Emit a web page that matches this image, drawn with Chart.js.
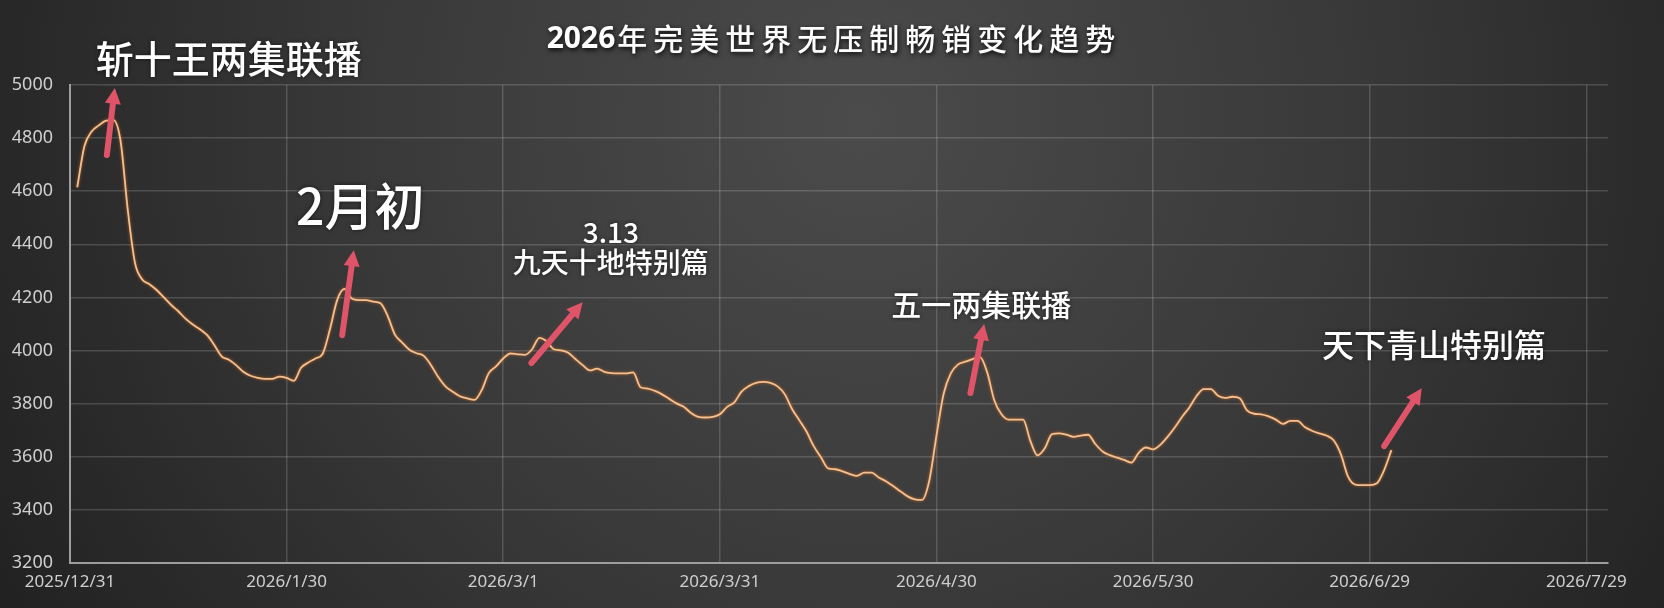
<!DOCTYPE html>
<html>
<head>
<meta charset="utf-8">
<script src="https://cdn.jsdelivr.net/npm/chart.js@4.4.1/dist/chart.umd.min.js"></script>
<style>
  html, body { margin: 0; padding: 0; background: #2b2b2b; }
  #wrap { width: 1664px; height: 608px; }
</style>
</head>
<body>
<div id="wrap"><canvas id="graph" width="1664" height="608"></canvas></div>
<script>
const titleYear = '2026';
const titleText = '年完美世界无压制畅销变化趋势';

// x axis counts days from this date
const axisStart = '2025-12-31';
const axisEndDay = 213;
// one reading per day, starting here
const firstDay = '2026-01-01';
const sales = [
  4615, 4770, 4825, 4848, 4866, 4868, 4790, 4530, 4330, 4268,
  4250, 4228, 4200, 4172, 4148, 4120, 4098, 4080, 4058, 4020,
  3978, 3965, 3945, 3920, 3905, 3897, 3893, 3893, 3902, 3897,
  3886, 3935, 3955, 3970, 3988, 4080, 4190, 4232, 4196, 4190,
  4190, 4184, 4178, 4130, 4060, 4030, 4003, 3990, 3980, 3945,
  3900, 3865, 3845, 3828, 3820, 3814, 3850, 3915, 3940, 3970,
  3989, 3986, 3984, 4005, 4048, 4035, 4005, 4001, 3992, 3968,
  3945, 3925, 3932, 3920, 3915, 3914, 3914, 3918, 3862, 3857,
  3848, 3835, 3818, 3801, 3788, 3765, 3750, 3748, 3750, 3760,
  3788, 3805, 3845, 3866, 3878, 3882, 3878, 3865, 3835, 3780,
  3738, 3695, 3640, 3598, 3556, 3553, 3545, 3535, 3528, 3540,
  3540, 3522, 3508, 3490, 3470, 3451, 3440, 3438, 3510, 3680,
  3838, 3915, 3948, 3958, 3968, 3976, 3920, 3813, 3760, 3740,
  3740, 3740, 3660, 3605, 3632, 3685, 3688, 3683, 3675, 3680,
  3683, 3648, 3620, 3606, 3597, 3588, 3578, 3615, 3635, 3628,
  3645, 3675, 3710, 3750, 3785, 3828, 3855, 3855, 3830, 3822,
  3826, 3820, 3775, 3762, 3760, 3752, 3740, 3724, 3735, 3735,
  3712, 3698, 3688, 3680, 3662, 3610, 3525, 3495, 3493, 3493,
  3500, 3550, 3625
];

const tickDays = [0, 30, 60, 90, 120, 150, 180, 210];
const tickLabels = ['2025/12/31', '2026/1/30', '2026/3/1', '2026/3/31', '2026/4/30', '2026/5/30', '2026/6/29', '2026/7/29'];
const yMin = 3200, yMax = 5000, yStep = 200;

// callouts, placed in data units
const notes = [
  { text: '斩十王两集联播', day: 22.0, value: 5098, size: 38 },
  { text: '2月初', day: 40.2, value: 4545, size: 50 },
  { text: '3.13', day: 74.9, value: 4445, size: 28 },
  { text: '九天十地特别篇', day: 74.9, value: 4333, size: 28 },
  { text: '五一两集联播', day: 126.2, value: 4172, size: 30 },
  { text: '天下青山特别篇', day: 188.9, value: 4020, size: 32 }
];
const arrows = [
  { from: [5.1, 4736], to: [6.2, 4989] },
  { from: [37.7, 4058], to: [39.3, 4378] },
  { from: [63.9, 3953], to: [71.0, 4182] },
  { from: [124.7, 3840], to: [126.6, 4100] },
  { from: [182.0, 3640], to: [187.2, 3858] }
];

const dayMs = 86400000;
const offset = (Date.parse(firstDay) - Date.parse(axisStart)) / dayMs;
const points = sales.map((v, i) => ({ x: offset + i, y: v }));

const backdrop = {
  id: 'backdrop',
  beforeDraw(chart) {
    const { ctx, width, height } = chart;
    ctx.save();
    const g = ctx.createRadialGradient(860, 120, 0, 860, 120, 980);
    g.addColorStop(0, '#4b4b4b');
    g.addColorStop(0.5, '#393939');
    g.addColorStop(1, '#222222');
    ctx.fillStyle = g;
    ctx.fillRect(0, 0, width, height);
    ctx.restore();
  }
};

const lineGlow = {
  id: 'lineGlow',
  beforeDatasetDraw(chart) {
    const ctx = chart.ctx;
    ctx.save();
    ctx.shadowColor = 'rgba(215, 105, 30, 0.9)';
    ctx.shadowBlur = 3;
  },
  afterDatasetDraw(chart) {
    chart.ctx.restore();
  }
};

const callouts = {
  id: 'callouts',
  afterDatasetsDraw(chart) {
    const { ctx, scales: { x, y } } = chart;
    ctx.save();

    // arrows
    ctx.strokeStyle = '#df5468';
    ctx.fillStyle = '#df5468';
    ctx.lineWidth = 6;
    ctx.lineCap = 'round';
    arrows.forEach(a => {
      const x0 = x.getPixelForValue(a.from[0]), y0 = y.getPixelForValue(a.from[1]);
      const x1 = x.getPixelForValue(a.to[0]), y1 = y.getPixelForValue(a.to[1]);
      const ang = Math.atan2(y1 - y0, x1 - x0);
      const head = 16, half = 8;
      const bx = x1 - head * Math.cos(ang), by = y1 - head * Math.sin(ang);
      ctx.beginPath();
      ctx.moveTo(x0, y0);
      ctx.lineTo(bx, by);
      ctx.stroke();
      ctx.beginPath();
      ctx.moveTo(x1, y1);
      ctx.lineTo(bx + half * Math.sin(ang), by - half * Math.cos(ang));
      ctx.lineTo(bx - half * Math.sin(ang), by + half * Math.cos(ang));
      ctx.closePath();
      ctx.fill();
    });

    // labels
    ctx.fillStyle = '#ffffff';
    ctx.textAlign = 'center';
    ctx.textBaseline = 'middle';
    ctx.shadowColor = 'rgba(0,0,0,0.6)';
    ctx.shadowBlur = 4;
    notes.forEach(n => {
      ctx.font = '500 ' + n.size + 'px "Noto Sans CJK SC", "Noto Sans", sans-serif';
      ctx.fillText(n.text, x.getPixelForValue(n.day), y.getPixelForValue(n.value));
    });

    // title: tight bold digits, spaced characters
    ctx.textAlign = 'left';
    ctx.shadowColor = 'rgba(0,0,0,0.9)';
    ctx.shadowBlur = 5;
    ctx.shadowOffsetX = 1;
    ctx.shadowOffsetY = 2;
    const yearFont = 'bold 30px "Noto Sans", "Noto Sans CJK SC", sans-serif';
    const textFont = '500 30px "Noto Sans CJK SC", sans-serif';
    ctx.font = yearFont;
    ctx.letterSpacing = '0px';
    const w1 = ctx.measureText(titleYear).width;
    ctx.font = textFont;
    ctx.letterSpacing = '6px';
    const w2 = ctx.measureText(titleText).width - 6;
    const left = 830 - (w1 + w2) / 2;
    ctx.font = yearFont;
    ctx.letterSpacing = '0px';
    ctx.fillText(titleYear, left, 39);
    ctx.font = textFont;
    ctx.letterSpacing = '6px';
    ctx.fillText(titleText, left + w1 + 2, 39);
    ctx.restore();
  }
};

const config = {
  type: 'line',
  data: {
    datasets: [{
      label: '畅销',
      data: points,
      borderColor: '#f1c193',
      borderWidth: 1.8,
      fill: false,
      pointRadius: 0,
      tension: 0.4,
      cubicInterpolationMode: 'monotone'
    }]
  },
  options: {
    responsive: false,
    devicePixelRatio: 1,
    animation: false,
    layout: { padding: { top: 85, right: 56, left: 0, bottom: 0 } },
    plugins: {
      legend: { display: false },
      tooltip: { enabled: false },
      title: { display: false }
    },
    scales: {
      x: {
        type: 'linear',
        min: 0,
        max: axisEndDay,
        afterBuildTicks: s => { s.ticks = tickDays.map(v => ({ value: v })); },
        afterFit: s => { s.height = 45; },
        ticks: {
          autoSkip: false,
          maxRotation: 0,
          padding: 9,
          color: '#cfcfcf',
          font: { family: '"Noto Sans", sans-serif', size: 17 },
          callback: v => tickLabels[tickDays.indexOf(v)]
        },
        grid: { color: 'rgba(255,255,255,0.16)', lineWidth: 1.5, drawTicks: false },
        border: { display: true, color: '#9d9d9d', width: 2 }
      },
      y: {
        min: yMin,
        max: yMax,
        afterFit: s => { s.width = 70; },
        ticks: {
          stepSize: yStep,
          padding: 17,
          color: '#cfcfcf',
          font: { family: '"Noto Sans", sans-serif', size: 18 },
          callback: v => String(v)
        },
        grid: { color: 'rgba(255,255,255,0.16)', lineWidth: 1.5, drawTicks: false },
        border: { display: true, color: '#9d9d9d', width: 2 }
      }
    }
  },
  plugins: [backdrop, lineGlow, callouts]
};

new Chart(document.getElementById('graph').getContext('2d'), config);
</script>
</body>
</html>
